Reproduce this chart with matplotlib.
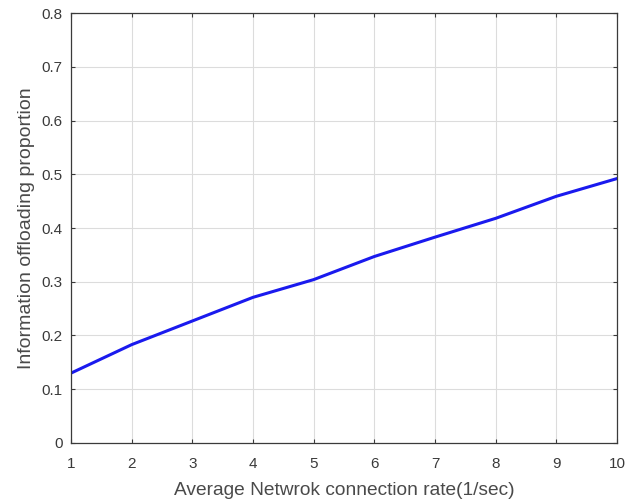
import numpy as np
import matplotlib as mpl
import matplotlib.pyplot as plt

mpl.rc('font', family='Liberation Sans')

# connection rate (1/sec) and the share of information offloaded
rate = [1, 2, 3, 4, 5, 6, 7, 8, 9, 10]
offload = [0.130, 0.183, 0.227, 0.271, 0.304, 0.347, 0.383, 0.418, 0.459, 0.492]

fig = plt.figure(figsize=(6.38, 5.01), dpi=100)
ax = fig.add_axes([0.1113, 0.1158, 0.8558, 0.8582])

ax.plot(rate, offload, '-', color='#1a1aee', linewidth=2.2)

ax.set_xlim(1, 10)
ax.set_ylim(0, 0.8)
ax.set_xticks(np.arange(1, 11))
ax.set_yticks(np.arange(0, 0.81, 0.1))
ax.set_yticklabels(['0', '0.1', '0.2', '0.3', '0.4', '0.5', '0.6', '0.7', '0.8'])

ax.grid(True, color='#dcdcdc', linewidth=0.8)
ax.set_axisbelow(True)
ax.tick_params(direction='in', top=True, right=True, length=3,
               labelsize=11, colors='#3a3a3a')
ax.tick_params(axis='x', pad=10)
ax.tick_params(axis='y', pad=6)
for s in ax.spines.values():
    s.set_color('#3a3a3a')
    s.set_linewidth(0.9)

ax.set_xlabel('Average Netwrok connection rate(1/sec)', fontsize=13.8, color='#4a4a4a', labelpad=8)
ax.set_ylabel('Information offloading proportion', fontsize=14, color='#4a4a4a', labelpad=5)

plt.savefig('out.png', dpi=100)
